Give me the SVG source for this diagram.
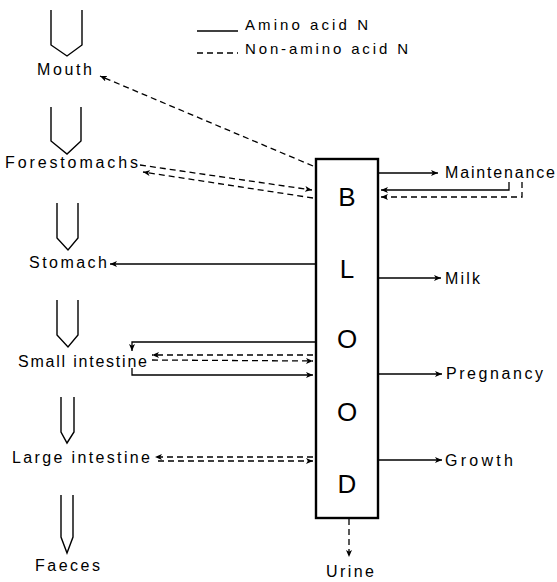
<svg xmlns="http://www.w3.org/2000/svg" width="557" height="582" viewBox="0 0 557 582">
<style>
text{font-family:"Liberation Sans",Arial,sans-serif;fill:#000}
.lbl{font-size:16px}
.leg{font-size:15px}
.big{font-size:26px;text-anchor:middle}
.tube{fill:none;stroke:#000;stroke-width:1.4}
.s{fill:none;stroke:#000;stroke-width:1.3}
.d{fill:none;stroke:#000;stroke-width:1.3;stroke-dasharray:6 4}
.box{fill:#fff;stroke:#000;stroke-width:2.4}
</style>
<defs>
<marker id="ah" markerUnits="userSpaceOnUse" markerWidth="8" markerHeight="7" refX="7" refY="3" orient="auto">
<path d="M0,0 L7,3 L0,6 L1.8,3 z" fill="#000"/>
</marker>
</defs>
<rect width="557" height="582" fill="#fff"/>

<g id="legend">
<line class="s" x1="197" y1="31" x2="238" y2="31"/>
<text class="leg" x="245" y="30" textLength="123" lengthAdjust="spacing">Amino acid N</text>
<line class="d" x1="197" y1="53" x2="238" y2="53"/>
<text class="leg" x="245" y="54" textLength="163" lengthAdjust="spacing">Non-amino acid N</text>
</g>

<g id="mouth">
<path class="tube" d="M51,10 V45 L67,56 L82,45 V10"/>
<text class="lbl" x="37" y="75" textLength="55" lengthAdjust="spacing">Mouth</text>
</g>
<g id="forestomachs">
<path class="tube" d="M51,107 V141 L67,154 L81,141 V107"/>
<text class="lbl" x="5" y="168" textLength="133" lengthAdjust="spacing">Forestomachs</text>
</g>
<g id="stomach">
<path class="tube" d="M57,203 V238 L68,250 L78,238 V203"/>
<text class="lbl" x="29" y="268" textLength="78" lengthAdjust="spacing">Stomach</text>
</g>
<g id="small-intestine">
<path class="tube" d="M57,300 V335 L68,347 L78,335 V300"/>
<text class="lbl" x="18" y="367" textLength="129" lengthAdjust="spacing">Small intestine</text>
</g>
<g id="large-intestine">
<path class="tube" d="M61,397 V432 L67,443 L74,432 V397"/>
<text class="lbl" x="12" y="463" textLength="138" lengthAdjust="spacing">Large intestine</text>
</g>
<g id="faeces">
<path class="tube" d="M61,495 V537 L67,553 L73,537 V495"/>
<text class="lbl" x="35" y="571" textLength="65" lengthAdjust="spacing">Faeces</text>
</g>

<g id="blood">
<rect class="box" x="316" y="159" width="62" height="359"/>
<text class="big" x="347" y="206">B</text>
<text class="big" x="347" y="278">L</text>
<text class="big" x="347" y="348">O</text>
<text class="big" x="347" y="421">O</text>
<text class="big" x="347" y="493">D</text>
</g>

<g id="maintenance"><text class="lbl" x="445" y="178" textLength="110" lengthAdjust="spacing">Maintenance</text></g>
<g id="milk"><text class="lbl" x="445" y="284" textLength="35" lengthAdjust="spacing">Milk</text></g>
<g id="pregnancy"><text class="lbl" x="446" y="379" textLength="97" lengthAdjust="spacing">Pregnancy</text></g>
<g id="growth"><text class="lbl" x="445" y="466" textLength="68" lengthAdjust="spacing">Growth</text></g>
<g id="urine"><text class="lbl" x="326" y="577" textLength="48" lengthAdjust="spacing">Urine</text></g>

<g id="connectors">
<line class="d" x1="313" y1="166" x2="100" y2="76" marker-end="url(#ah)"/>
<line class="d" x1="140" y1="165" x2="312" y2="190" marker-end="url(#ah)"/>
<line class="d" x1="313" y1="198" x2="143" y2="172" marker-end="url(#ah)"/>
<line class="s" x1="315" y1="264" x2="110" y2="264" marker-end="url(#ah)"/>
<path class="s" d="M315,342 H132 V351" marker-end="url(#ah)"/>
<line class="d" x1="313" y1="355" x2="152" y2="355" marker-end="url(#ah)"/>
<line class="d" x1="152" y1="360" x2="313" y2="361" marker-end="url(#ah)"/>
<path class="s" d="M132,368 V375 H313" marker-end="url(#ah)"/>
<line class="d" x1="313" y1="457" x2="155" y2="457" marker-end="url(#ah)"/>
<line class="d" x1="158" y1="461" x2="313" y2="461" marker-end="url(#ah)"/>
<line class="s" x1="379" y1="173" x2="438" y2="173" marker-end="url(#ah)"/>
<path class="s" d="M509,182 V190 H381" marker-end="url(#ah)"/>
<path class="d" d="M522,182 V197 H381" marker-end="url(#ah)"/>
<line class="s" x1="379" y1="278" x2="441" y2="278" marker-end="url(#ah)"/>
<line class="s" x1="379" y1="374" x2="442" y2="374" marker-end="url(#ah)"/>
<line class="s" x1="379" y1="460" x2="442" y2="460" marker-end="url(#ah)"/>
<line class="d" x1="349" y1="519" x2="349" y2="557" marker-end="url(#ah)"/>
</g>
</svg>
